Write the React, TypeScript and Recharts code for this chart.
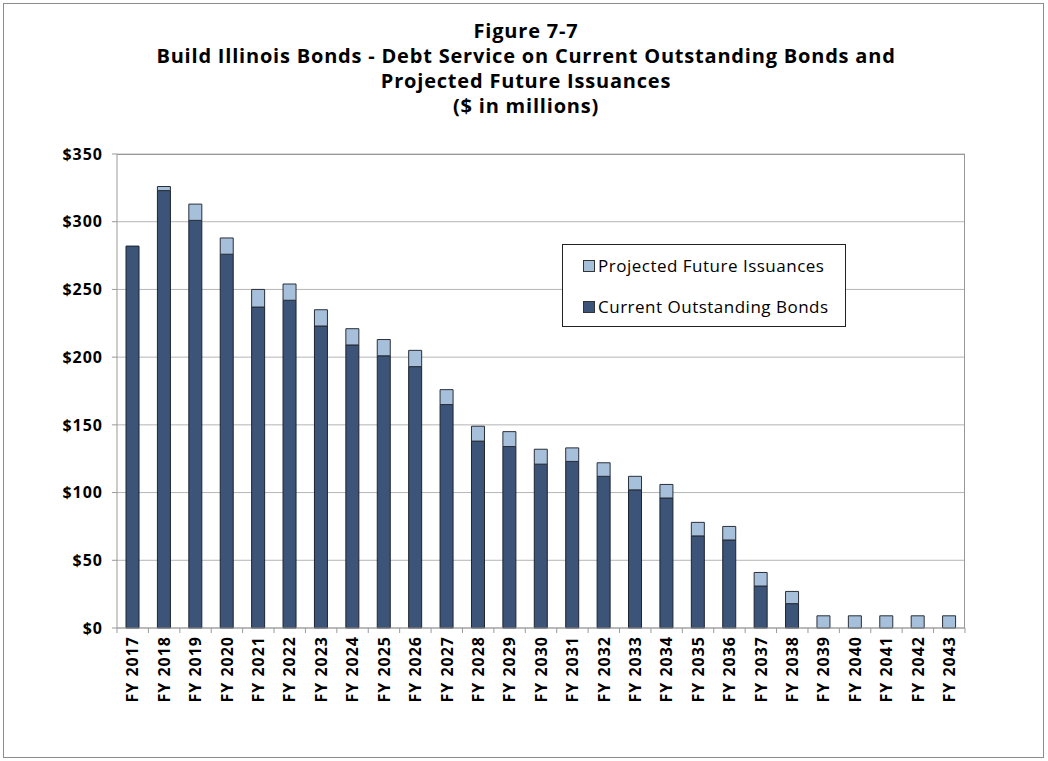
import { BarChart, Bar, XAxis, YAxis, CartesianGrid } from "recharts"

const years = [
  "FY 2017", "FY 2018", "FY 2019", "FY 2020", "FY 2021", "FY 2022", "FY 2023", "FY 2024", "FY 2025",
  "FY 2026", "FY 2027", "FY 2028", "FY 2029", "FY 2030", "FY 2031", "FY 2032", "FY 2033", "FY 2034",
  "FY 2035", "FY 2036", "FY 2037", "FY 2038", "FY 2039", "FY 2040", "FY 2041", "FY 2042", "FY 2043",
]
const currentBonds = [
  282, 323, 301, 276, 237, 242, 223, 209, 201, 193, 165, 138, 134, 121, 123, 112, 102, 96,
  68, 65, 31, 18, 0, 0, 0, 0, 0,
]
const projectedIssuances = [
  0, 3, 12, 12, 13, 12, 12, 12, 12, 12, 11, 11, 11, 11, 10, 10, 10, 10,
  10, 10, 10, 9, 9, 9, 9, 9, 9,
]
const yTicks = [0, 50, 100, 150, 200, 250, 300, 350]

const data = years.map((year, i) => ({
  year,
  current: currentBonds[i],
  projected: projectedIssuances[i],
}))

const DARK = "#3c5478"
const LIGHT = "#a6bfdb"
const FONT = "'Open Sans', sans-serif"
const PLOT_W = 848
const BAND = PLOT_W / years.length

const XTick = (props: any) => {
  const { x, y, payload, index } = props
  const last = index === years.length - 1
  return (
    <g>
      <line x1={x - BAND / 2} x2={x - BAND / 2} y1={y - 8} y2={y - 3} stroke="#999" />
      {last && <line x1={x + BAND / 2} x2={x + BAND / 2} y1={y - 8} y2={y - 3} stroke="#999" />}
      <text
        x={x}
        y={y}
        transform={`rotate(-90 ${x} ${y})`}
        textAnchor="end"
        dy="0.36em"
        fontFamily={FONT}
        fontWeight={700}
        fontSize={16}
        letterSpacing={1}
        fill="#000"
      >
        {payload.value}
      </text>
    </g>
  )
}

// legend drawn as an overlay so the chart keeps its full plot height
const LegendBox = () => (
  <div
    style={{
      position: "absolute",
      left: 562,
      top: 244,
      width: 284,
      height: 83,
      boxSizing: "border-box",
      border: "1px solid #222",
      background: "#fff",
      fontFamily: FONT,
      fontSize: 17,
      letterSpacing: 0.5,
      color: "#000",
      paddingLeft: 20,
      paddingTop: 10,
    }}
  >
    {[
      { label: "Projected Future Issuances", color: LIGHT },
      { label: "Current Outstanding Bonds", color: DARK },
    ].map((it, i) => (
      <div key={i} style={{ display: "flex", alignItems: "center", height: 21, marginBottom: i === 0 ? 20 : 0 }}>
        <span
          style={{
            display: "inline-block",
            width: 10,
            height: 10,
            background: it.color,
            border: "1px solid #333",
            marginRight: 3,
          }}
        />
        <span>{it.label}</span>
      </div>
    ))}
  </div>
)

export default function App() {
  return (
    <div style={{ position: "absolute", left: 0, top: 0, width: 1048, height: 761, background: "#fff" }}>
      <div
        style={{
          position: "absolute",
          left: 3,
          top: 3,
          width: 1041,
          height: 755,
          border: "1px solid #8c8c8c",
          boxSizing: "border-box",
        }}
      />
      <div
        style={{
          position: "absolute",
          left: 0,
          top: 18,
          width: 1052,
          textAlign: "center",
          fontFamily: FONT,
          fontWeight: 700,
          fontSize: 20,
          letterSpacing: 0.8,
          lineHeight: "25px",
          color: "#000",
        }}
      >
        <div>Figure 7-7</div>
        <div>Build Illinois Bonds - Debt Service on Current Outstanding Bonds and</div>
        <div>Projected Future Issuances</div>
        <div>($ in millions)</div>
      </div>
      <div style={{ position: "absolute", left: 0, top: 0 }}>
        <BarChart
          width={1048}
          height={761}
          data={data}
          margin={{ top: 154, right: 83, left: 57, bottom: 53 }}
          barSize={13}
        >
          <CartesianGrid vertical={false} stroke="#b5b5b5" />
          <XAxis
            dataKey="year"
            interval={0}
            height={80}
            tickLine={false}
            tickSize={6}
            tickMargin={2}
            axisLine={{ stroke: "#999" }}
            tick={<XTick />}
          />
          <YAxis
            width={60}
            domain={[0, 350]}
            ticks={yTicks}
            interval={0}
            tickSize={5}
            tickMargin={9}
            axisLine={{ stroke: "#999" }}
            tickLine={{ stroke: "#999" }}
            tickFormatter={(v) => `$${v}`}
            tick={{ fontFamily: FONT, fontWeight: 700, fontSize: 16, letterSpacing: 1, fill: "#000" }}
          />
          <Bar dataKey="current" stackId="a" fill={DARK} stroke="#1c2330" strokeWidth={1} isAnimationActive={false} />
          <Bar dataKey="projected" stackId="a" fill={LIGHT} stroke="#2a2f38" strokeWidth={1} isAnimationActive={false} />
        </BarChart>
      </div>
      <div
        style={{
          position: "absolute",
          left: 117,
          top: 154,
          width: PLOT_W,
          height: 474,
          borderTop: "1px solid #999",
          borderRight: "1px solid #999",
          boxSizing: "border-box",
          pointerEvents: "none",
        }}
      />
      <LegendBox />
    </div>
  )
}
